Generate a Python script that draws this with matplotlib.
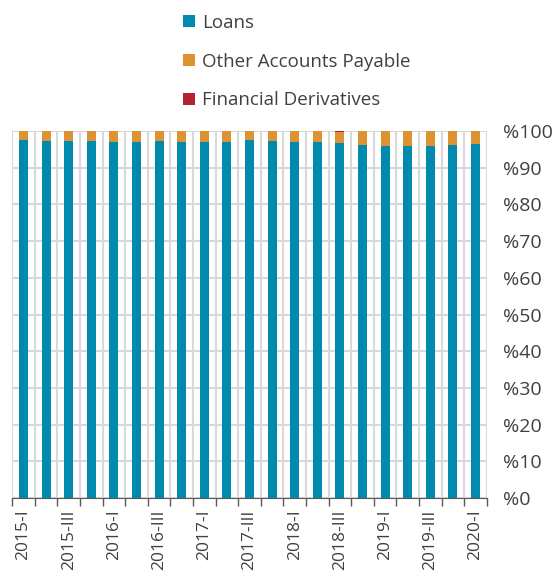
import matplotlib.pyplot as plt
import numpy as np

# ---------------------------------------------
# Data (share of total, %)
# ---------------------------------------------
quarters = ["2015-I", "2015-II", "2015-III", "2015-IV",
            "2016-I", "2016-II", "2016-III", "2016-IV",
            "2017-I", "2017-II", "2017-III", "2017-IV",
            "2018-I", "2018-II", "2018-III", "2018-IV",
            "2019-I", "2019-II", "2019-III", "2019-IV",
            "2020-I"]
loans = [97.5, 97.3, 97.3, 97.2, 96.9, 96.9, 97.2, 97.0, 96.9, 97.0,
         97.5, 97.3, 97.0, 97.0, 96.7, 96.2, 95.9, 96.0, 95.8, 96.2, 96.3]
derivatives = [0.05, 0.05, 0.05, 0.05, 0.05, 0.05, 0.05, 0.15, 0.05, 0.15,
               0.05, 0.05, 0.05, 0.05, 0.3, 0.05, 0.1, 0.05, 0.05, 0.05, 0.05]
other = [100 - l - d for l, d in zip(loans, derivatives)]

C_LOANS = "#008aad"
C_OTHER = "#dd9333"
C_DERIV = "#b22334"
TXT = "#404040"

plt.rcParams['font.family'] = ['Open Sans', 'DejaVu Sans']

fig = plt.figure(figsize=(5.55, 5.74), dpi=100)
ax = fig.add_axes([0.022, 0.132, 0.855, 0.640])

x = np.arange(len(quarters))
w = 0.4
b1 = ax.bar(x, loans, w, color=C_LOANS, label="Loans", zorder=3)
b2 = ax.bar(x, other, w, bottom=loans, color=C_OTHER,
            label="Other Accounts Payable", zorder=3)
bottom2 = [l + o for l, o in zip(loans, other)]
b3 = ax.bar(x, derivatives, w, bottom=bottom2, color=C_DERIV,
            label="Financial Derivatives", zorder=3)

ax.set_xlim(-0.5, len(quarters) - 0.5)
ax.set_ylim(0, 100)

# y axis on the right
ax.yaxis.tick_right()
ax.set_yticks(range(0, 101, 10))
ax.set_yticklabels([f"%{v}" for v in range(0, 101, 10)], fontsize=14, color=TXT)
ax.tick_params(axis="y", length=0, pad=12)

# x ticks: labels every other quarter, tick marks at boundaries
ax.set_xticks(x[::2])
ax.set_xticklabels(quarters[::2], rotation=90, fontsize=12.5, color=TXT)
ax.set_xticks(np.arange(-0.5, len(quarters), 1), minor=True)
ax.tick_params(axis="x", which="major", length=0, pad=8)
ax.tick_params(axis="x", which="minor", length=6, color="#595959", width=1)

# grid
ax.grid(axis="y", color="#d9d9d9", linewidth=1.5, zorder=0)
ax.grid(axis="x", which="minor", color="#d9d9d9", linewidth=1.5, zorder=0)
ax.grid(axis="x", which="major", visible=False)

for s in ["top", "left", "right"]:
    ax.spines[s].set_visible(False)
ax.spines["bottom"].set_color("#595959")
ax.spines["bottom"].set_zorder(4)

fig.legend(handles=[b1, b2, b3], loc="upper left", bbox_to_anchor=(0.30, 1.005),
           frameon=False, fontsize=13.5, labelcolor=TXT, handlelength=0.6,
           handleheight=0.6, handletextpad=0.4, labelspacing=1.1)

plt.savefig("out.png", dpi=100)
plt.close()
